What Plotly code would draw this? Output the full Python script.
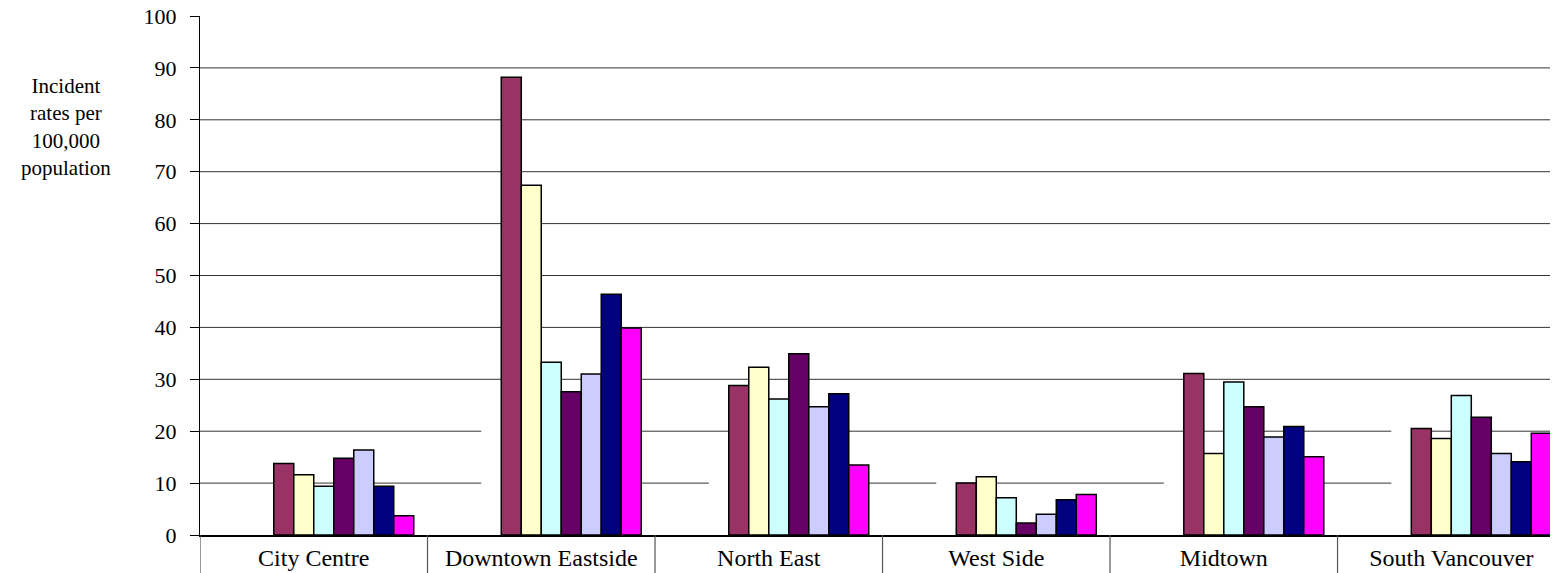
import plotly.graph_objects as go

# ---------------- data ----------------
CATEGORIES = ["City Centre", "Downtown Eastside", "North East", "West Side", "Midtown", "South Vancouver"]

# first three slots of each group are blank (white) in the source chart
BLANK_1 = [0, 0, 0, 0, 0, 0]
BLANK_2 = [0, 0, 0, 0, 0, 0]
BLANK_3 = [0, 25, 15, 15, 15, 25]

SERIES_1 = [13.8, 88.2, 28.8, 10.0, 31.1, 20.5]
SERIES_2 = [11.6, 67.4, 32.3, 11.2, 15.7, 18.6]
SERIES_3 = [9.4, 33.3, 26.2, 7.2, 29.5, 26.9]
SERIES_4 = [14.8, 27.6, 34.9, 2.3, 24.7, 22.7]
SERIES_5 = [16.4, 31.0, 24.7, 4.0, 18.9, 15.7]
SERIES_6 = [9.4, 46.4, 27.2, 6.8, 20.9, 14.1]
SERIES_7 = [3.7, 39.9, 13.5, 7.8, 15.1, 19.6]

Y_TICKS = [0, 10, 20, 30, 40, 50, 60, 70, 80, 90, 100]
GRID_VALUES = [10, 20, 30, 40, 50, 60, 70, 80, 90]

Y_TITLE = "Incident<br>rates per<br>100,000<br>population"

# ---------------- styling ----------------
FONT = "Liberation Serif, Times New Roman, serif"
blank_series = [BLANK_1, BLANK_2, BLANK_3]
visible_series = [SERIES_1, SERIES_2, SERIES_3, SERIES_4, SERIES_5, SERIES_6, SERIES_7]
colors = ["#993366", "#FFFFCC", "#CCFFFF", "#660066", "#CCCCFF", "#000080", "#FF00FF"]

fig = go.Figure()
for i, vals in enumerate(blank_series):
    fig.add_trace(go.Bar(
        x=CATEGORIES, y=vals, name=f"blank {i+1}",
        marker=dict(color="white", line=dict(width=0)),
        hoverinfo="skip", showlegend=False,
    ))
for i, (vals, c) in enumerate(zip(visible_series, colors)):
    fig.add_trace(go.Bar(
        x=CATEGORIES, y=vals, name=f"Series {i+1}",
        marker=dict(color=c, line=dict(color="black", width=1.5)),
        showlegend=False,
    ))

shapes = []
for g in GRID_VALUES:
    shapes.append(dict(type="line", xref="paper", yref="y", x0=0, x1=1, y0=g, y1=g,
                       line=dict(color="#333333", width=1), layer="below"))
# category dividers below the axis
for k in range(len(CATEGORIES) + 1):
    shapes.append(dict(type="line", xref="x", yref="paper", x0=k - 0.5, x1=k - 0.5,
                       y0=0, y1=-0.08, line=dict(color="#555555", width=1.2)))

fig.update_layout(
    width=1550, height=565,
    margin=dict(l=192, r=0, t=8, b=38),
    paper_bgcolor="white", plot_bgcolor="white",
    barmode="group", bargap=0.121, bargroupgap=0,
    font=dict(family=FONT, color="black"),
    shapes=shapes,
    xaxis=dict(
        type="category", range=[-0.5, 5.469], automargin=False,
        showline=True, linecolor="black", linewidth=1.5,
        ticks="", showgrid=False,
        tickfont=dict(family=FONT, size=24, color="black"),
    ),
    yaxis=dict(
        range=[0, 100], tickvals=Y_TICKS, automargin=False,
        showline=True, linecolor="black", linewidth=1.2,
        ticks="outside", ticklen=9, tickcolor="black", tickwidth=1,
        showgrid=False, zeroline=False,
        ticklabelstandoff=9, ticklabeloverflow="allow",
        tickfont=dict(family=FONT, size=22, color="black"),
    ),
    annotations=[dict(
        text=Y_TITLE, xref="paper", yref="paper", x=-0.0987, y=0.786,
        xanchor="center", yanchor="middle", showarrow=False,
        font=dict(family=FONT, size=21, color="black"),
    )],
)

fig.write_html("out.html")
